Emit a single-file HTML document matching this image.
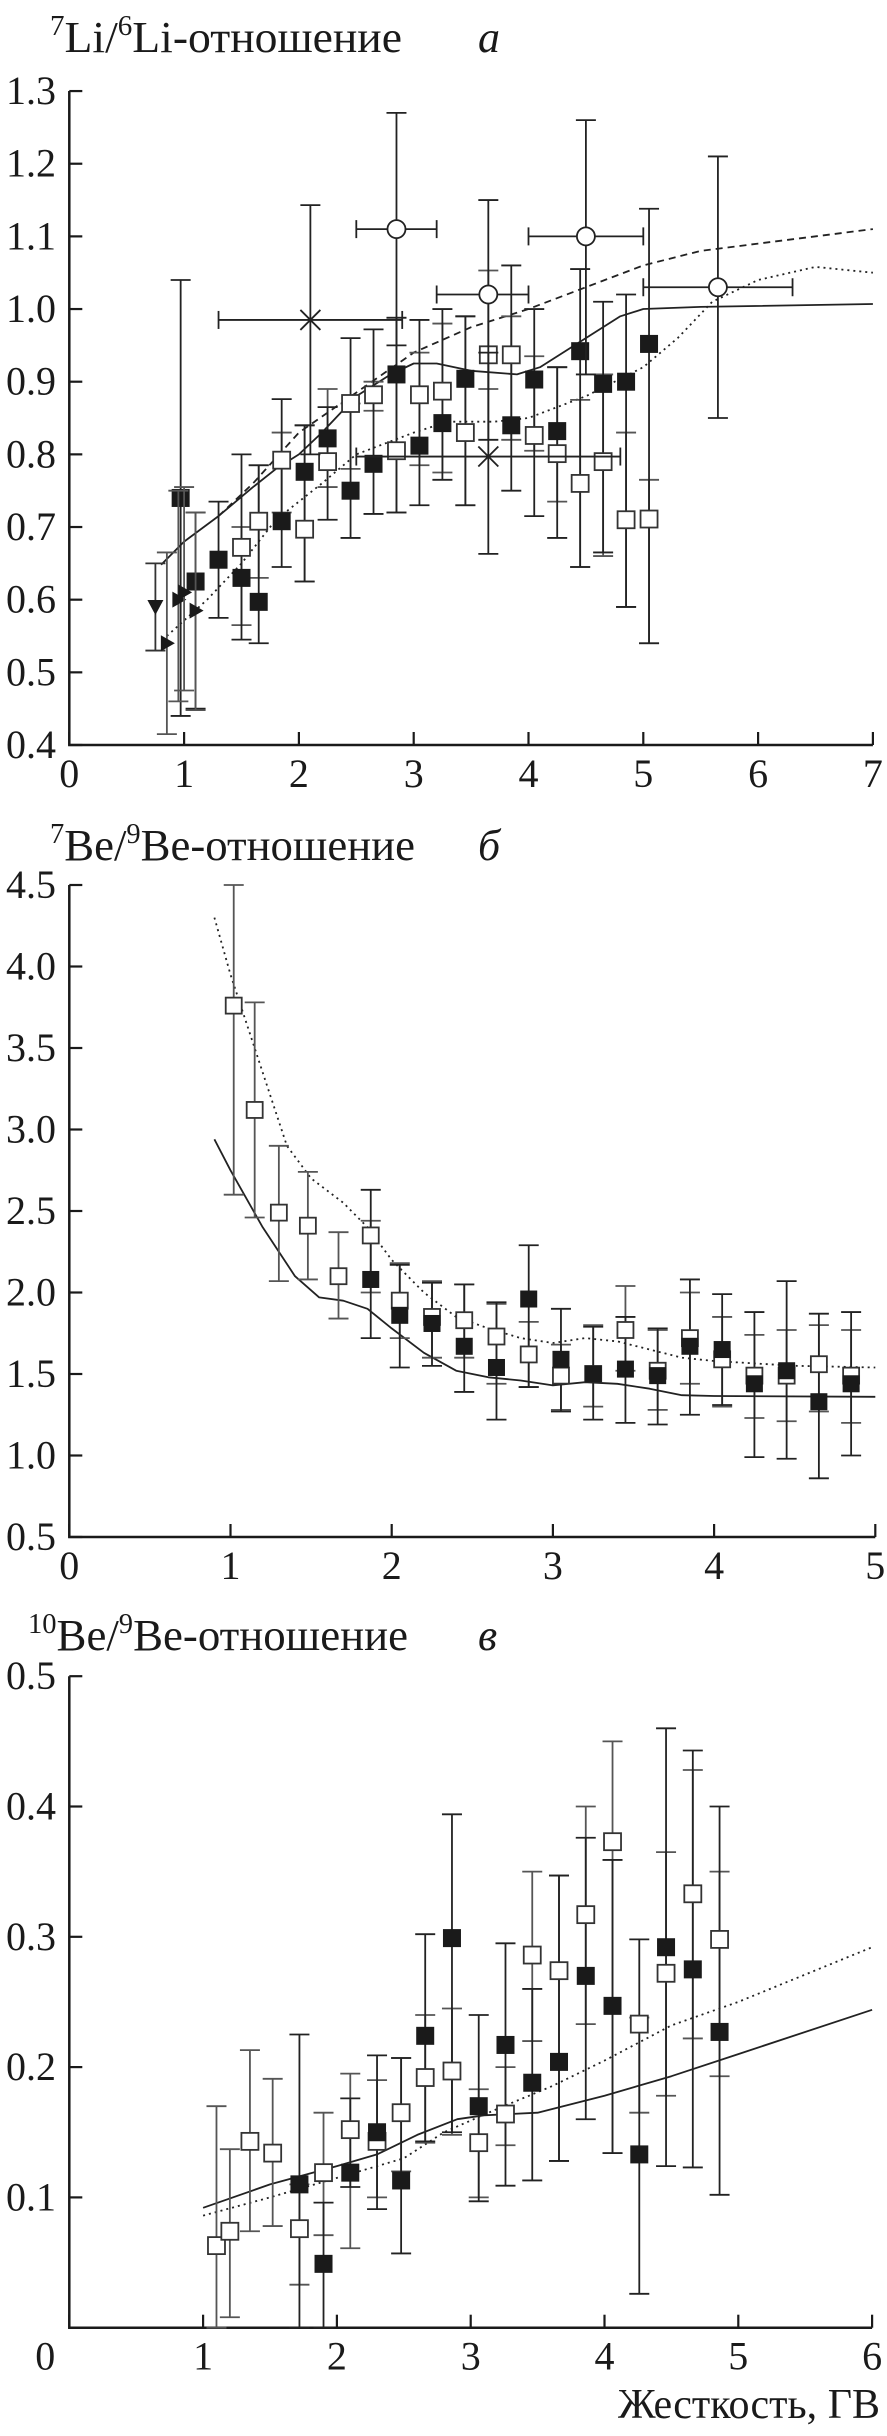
<!DOCTYPE html>
<html><head><meta charset="utf-8"><style>
html,body{margin:0;padding:0;background:#fff;}
svg{display:block;}
text{font-family:"Liberation Serif",serif;fill:#1a1a1a;}
</style></head><body>
<svg id="s" width="887" height="2436" viewBox="0 0 887 2436" xmlns="http://www.w3.org/2000/svg">
<text x="50" y="52" font-size="44" textLength="352" lengthAdjust="spacingAndGlyphs"><tspan font-size="28" dy="-17">7</tspan><tspan dy="17">Li/</tspan><tspan font-size="28" dy="-17">6</tspan><tspan dy="17">Li-отношение</tspan></text>
<text x="478" y="52" font-size="44" font-style="italic">а</text>
<text x="50" y="860" font-size="44" textLength="365" lengthAdjust="spacingAndGlyphs"><tspan font-size="28" dy="-17">7</tspan><tspan dy="17">Be/</tspan><tspan font-size="28" dy="-17">9</tspan><tspan dy="17">Be-отношение</tspan></text>
<text x="478" y="860" font-size="44" font-style="italic">б</text>
<text x="28" y="1650" font-size="44" textLength="380" lengthAdjust="spacingAndGlyphs"><tspan font-size="28" dy="-17">10</tspan><tspan dy="17">Be/</tspan><tspan font-size="28" dy="-17">9</tspan><tspan dy="17">Be-отношение</tspan></text>
<text x="478" y="1650" font-size="44" font-style="italic">в</text>
<text x="880" y="2418" font-size="42" text-anchor="end" textLength="262" lengthAdjust="spacingAndGlyphs">Жесткость, ГВ</text>
</svg>
<script>
var S=document.getElementById('s'),NS='http://www.w3.org/2000/svg';
function el(t,a,txt){var e=document.createElementNS(NS,t);for(var k in a)e.setAttribute(k,a[k]);if(txt!==undefined)e.textContent=txt;S.appendChild(e);return e;}
function panel(P){
 var X=function(v){return P.x0+v*P.sx;},Y=function(v){return P.y0-(v-P.ymin)*P.sy;};
 var yt=Y(P.ymax),yb=Y(P.ymin),xr=X(P.xmax);
 el('path',{d:'M'+P.x0+' '+yt+'V'+yb+'H'+xr,stroke:'#1a1a1a','stroke-width':2.5,fill:'none'});
 P.yt.forEach(function(v){var y=Y(v);el('line',{x1:P.x0,y1:y,x2:P.x0+13,y2:y,stroke:'#1a1a1a','stroke-width':2.2});
  el('text',{x:56,y:y+13,'font-size':40,'text-anchor':'end'},v.toFixed(1));});
 P.xt.forEach(function(v){var x=X(v);el('line',{x1:x,y1:yb,x2:x,y2:yb-13,stroke:'#1a1a1a','stroke-width':2.2});
  el('text',{x:(v==0&&P.zoff)?x+P.zoff:x,y:yb+P.xlab,'font-size':40,'text-anchor':'middle'},String(v));});
 function line(pts,dash){var d='';pts.forEach(function(p,i){d+=(i?'L':'M')+X(p[0]).toFixed(1)+' '+Y(p[1]).toFixed(1);});
  var a={d:d,stroke:'#222','stroke-width':1.8,fill:'none','stroke-linejoin':'round'};if(dash)a['stroke-dasharray']=dash;el('path',a);}
 function eb(x,lo,hi,c){var cx=X(x);el('line',{x1:cx,y1:Y(lo),x2:cx,y2:Y(hi),stroke:c,'stroke-width':1.8});
  [lo,hi].forEach(function(v){el('line',{x1:cx-10,y1:Y(v),x2:cx+10,y2:Y(v),stroke:c,'stroke-width':1.8});});}
 (P.lines||[]).forEach(function(l){line(l[0],l[1]);});
 (P.open||[]).forEach(function(p){eb(p[0],p[2],p[3],'#555');});
 (P.filled||[]).forEach(function(p){eb(p[0],p[2],p[3],'#222');});
 var h=P.ms/2;
 (P.open||[]).forEach(function(p){el('rect',{x:X(p[0])-h,y:Y(p[1])-h,width:P.ms,height:P.ms,fill:'#fff',stroke:'#333','stroke-width':1.8});});
 (P.filled||[]).forEach(function(p){el('rect',{x:X(p[0])-h,y:Y(p[1])-h,width:P.ms,height:P.ms,fill:'#1a1a1a',stroke:'#1a1a1a','stroke-width':1});});
 return {X:X,Y:Y,eb:eb};
}
var A=panel({x0:69.3,sx:114.8,y0:745,ymin:0.4,ymax:1.3,sy:726.6,xmax:7,ms:17,xlab:42,
 yt:[0.4,0.5,0.6,0.7,0.8,0.9,1.0,1.1,1.2,1.3],xt:[0,1,2,3,4,5,6,7],
 lines:[
 [[[0.8,0.648],[1.0,0.68],[1.3,0.715],[1.6,0.755],[1.8,0.78],[2.0,0.80],[2.2,0.83],[2.5,0.88],[2.8,0.91],[3.0,0.925],[3.2,0.925],[3.5,0.915],[3.9,0.91],[4.1,0.92],[4.4,0.95],[4.8,0.99],[5.0,1.0],[5.5,1.003],[7,1.007]],null],
 [[[1.3,0.715],[1.6,0.76],[2,0.83],[2.5,0.885],[3,0.94],[3.5,0.975],[4,1.0],[4.5,1.03],[5,1.06],[5.5,1.08],[6,1.09],[7,1.11]],'7,5'],
 [[[0.85,0.55],[1.2,0.60],[1.5,0.65],[1.8,0.71],[2.2,0.76],[2.5,0.80],[3,0.83],[3.3,0.845],[3.7,0.845],[4.0,0.85],[4.5,0.88],[5.0,0.92],[5.3,0.96],[5.6,1.01],[6.0,1.04],[6.5,1.058],[7,1.05]],'2,4']],
 open:[[1.5,0.672,0.565,0.70],[1.65,0.708,0.63,0.785],[1.85,0.792,0.72,0.83],[2.05,0.697,0.625,0.84],[2.25,0.79,0.755,0.89],[2.45,0.87,0.78,0.87],[2.65,0.882,0.86,0.9],[2.85,0.805,0.72,0.988],[3.05,0.882,0.785,0.94],[3.25,0.887,0.775,0.98],[3.45,0.83,0.73,0.99],[3.65,0.937,0.89,1.053],[3.85,0.937,0.82,0.99],[4.05,0.826,0.805,0.935],[4.25,0.801,0.735,0.92],[4.45,0.76,0.645,0.875],[4.65,0.79,0.66,0.91],[4.85,0.71,0.59,0.83],[5.05,0.711,0.54,0.765]],
 filled:[[0.97,0.74,0.44,1.04],[1.1,0.625,0.45,0.72],[1.3,0.655,0.575,0.735],[1.5,0.63,0.545,0.80],[1.65,0.597,0.54,0.785],[1.85,0.708,0.645,0.876],[2.05,0.776,0.625,0.84],[2.25,0.822,0.71,0.865],[2.45,0.75,0.685,0.96],[2.65,0.787,0.718,0.972],[2.85,0.91,0.72,0.988],[3.05,0.812,0.73,0.985],[3.25,0.843,0.765,1.0],[3.45,0.904,0.73,0.99],[3.85,0.84,0.75,1.06],[4.05,0.903,0.715,1.0],[4.25,0.832,0.685,0.92],[4.45,0.942,0.645,1.055],[4.65,0.897,0.665,1.01],[4.85,0.9,0.59,1.02],[5.05,0.952,0.54,1.138]]});
[[2.85,1.11,0.95,1.27,2.5,3.2],[3.65,1.02,0.82,1.15,3.2,4.0],[4.5,1.10,0.91,1.26,4.0,5.0],[5.65,1.03,0.85,1.21,5.0,6.3]].forEach(function(p){
 A.eb(p[0],p[2],p[3],'#222');var y=A.Y(p[1]);
 el('line',{x1:A.X(p[4]),y1:y,x2:A.X(p[5]),y2:y,stroke:'#222','stroke-width':1.8});
 [p[4],p[5]].forEach(function(v){el('line',{x1:A.X(v),y1:y-9,x2:A.X(v),y2:y+9,stroke:'#222','stroke-width':1.8});});
 el('circle',{cx:A.X(p[0]),cy:y,r:9,fill:'#fff',stroke:'#222','stroke-width':1.8});});
[[2.1,0.985,0.80,1.143,1.3,2.9],[3.65,0.797,0.663,0.94,2.5,4.8]].forEach(function(p){
 A.eb(p[0],p[2],p[3],'#222');var y=A.Y(p[1]),x=A.X(p[0]);
 el('line',{x1:A.X(p[4]),y1:y,x2:A.X(p[5]),y2:y,stroke:'#222','stroke-width':1.8});
 [p[4],p[5]].forEach(function(v){el('line',{x1:A.X(v),y1:y-9,x2:A.X(v),y2:y+9,stroke:'#222','stroke-width':1.8});});
 el('path',{d:'M'+(x-10)+' '+(y-10)+'L'+(x+10)+' '+(y+10)+'M'+(x-10)+' '+(y+10)+'L'+(x+10)+' '+(y-10),stroke:'#222','stroke-width':1.8});});
A.eb(0.75,0.53,0.65,'#333');
(function(){var x=A.X(0.75),y=A.Y(0.59);el('path',{d:'M'+(x-8)+' '+(y-7)+'L'+(x+8)+' '+(y-7)+'L'+x+' '+(y+8)+'Z',fill:'#1a1a1a'});})();
[[0.85,0.54,0.415,0.665],[0.95,0.60,0.46,0.75],[1.0,0.61,0.475,0.755],[1.1,0.585,0.448,0.72]].forEach(function(p){
 A.eb(p[0],p[2],p[3],'#555');var x=A.X(p[0]),y=A.Y(p[1]);
 el('path',{d:'M'+(x-6)+' '+(y-8)+'L'+(x+8)+' '+y+'L'+(x-6)+' '+(y+8)+'Z',fill:'#1a1a1a'});});
panel({x0:69.3,sx:161.2,y0:1537,ymin:0.5,ymax:4.5,sy:163,xmax:5,ms:16,xlab:42,
 yt:[0.5,1.0,1.5,2.0,2.5,3.0,3.5,4.0,4.5],xt:[0,1,2,3,4,5],
 lines:[
 [[[0.9,2.94],[1.0,2.75],[1.2,2.4],[1.4,2.1],[1.55,1.97],[1.7,1.95],[1.85,1.9],[2.0,1.78],[2.2,1.63],[2.4,1.52],[2.6,1.48],[2.8,1.46],[3.0,1.43],[3.2,1.45],[3.4,1.44],[3.6,1.41],[3.8,1.37],[4.0,1.365],[5,1.36]],null],
 [[[0.9,4.3],[1.0,3.95],[1.2,3.35],[1.35,2.9],[1.5,2.7],[1.7,2.55],[1.85,2.4],[2.0,2.2],[2.2,2.0],[2.4,1.85],[2.6,1.78],[2.8,1.72],[3.0,1.69],[3.2,1.72],[3.4,1.7],[3.6,1.65],[3.8,1.6],[4.0,1.58],[4.5,1.55],[5,1.54]],'2,4']],
 open:[[1.02,3.76,2.6,4.5],[1.15,3.12,2.46,3.78],[1.3,2.49,2.07,2.9],[1.48,2.41,2.08,2.74],[1.67,2.1,1.84,2.37],[1.87,2.35,2.0,2.44],[2.05,1.95,1.72,2.18],[2.25,1.85,1.6,2.07],[2.45,1.83,1.6,2.05],[2.65,1.73,1.44,1.93],[2.85,1.62,1.42,1.82],[3.05,1.49,1.28,1.68],[3.25,1.5,1.3,1.8],[3.45,1.77,1.52,2.04],[3.65,1.52,1.28,1.77],[3.85,1.72,1.44,2.0],[4.05,1.59,1.3,1.85],[4.25,1.49,1.23,1.74],[4.45,1.49,1.21,1.77],[4.65,1.56,1.27,1.8],[4.85,1.49,1.2,1.77]],
 filled:[[1.87,2.08,1.72,2.63],[2.05,1.86,1.54,2.17],[2.25,1.81,1.55,2.06],[2.45,1.67,1.39,2.05],[2.65,1.54,1.22,1.94],[2.85,1.96,1.42,2.29],[3.05,1.59,1.27,1.9],[3.25,1.5,1.22,1.79],[3.45,1.53,1.2,1.85],[3.65,1.49,1.19,1.78],[3.85,1.67,1.25,2.08],[4.05,1.65,1.31,1.99],[4.25,1.44,0.99,1.88],[4.45,1.52,0.98,2.07],[4.65,1.33,0.86,1.87],[4.85,1.44,1.0,1.88]]});
panel({x0:69.3,sx:133.8,y0:2327.7,ymin:0,ymax:0.5,sy:1303,xmax:6,ms:17,xlab:42,zoff:-24,
 yt:[0.1,0.2,0.3,0.4,0.5],xt:[0,1,2,3,4,5,6],
 lines:[
 [[[1,0.092],[1.5,0.11],[2,0.124],[2.3,0.133],[2.6,0.148],[2.9,0.16],[3.1,0.163],[3.5,0.165],[4,0.178],[4.5,0.193],[5,0.21],[6,0.244]],null],
 [[[1,0.086],[1.5,0.1],[2,0.115],[2.5,0.13],[2.8,0.15],[3.2,0.168],[3.6,0.185],[4,0.205],[4.5,0.232],[5,0.25],[6,0.292]],'2,4']],
 open:[[1.1,0.063,0,0.17],[1.2,0.074,0.008,0.137],[1.35,0.143,0.074,0.213],[1.52,0.134,0.078,0.191],[1.72,0.076,0.033,0.11],[1.9,0.119,0.071,0.165],[2.1,0.152,0.061,0.195],[2.3,0.143,0.1,0.19],[2.48,0.165,0.12,0.207],[2.66,0.192,0.142,0.24],[2.86,0.197,0.148,0.245],[3.06,0.142,0.1,0.183],[3.26,0.164,0.14,0.2],[3.46,0.286,0.22,0.35],[3.66,0.274,0.128,0.347],[3.86,0.317,0.233,0.4],[4.06,0.373,0.134,0.45],[4.26,0.233,0.165,0.238],[4.46,0.272,0.178,0.365],[4.66,0.333,0.222,0.428],[4.86,0.298,0.193,0.35]],
 filled:[[1.72,0.11,0,0.225],[1.9,0.049,0,0.096],[2.1,0.119,0.108,0.176],[2.3,0.15,0.091,0.209],[2.48,0.113,0.057,0.207],[2.66,0.224,0.143,0.302],[2.86,0.299,0.15,0.394],[3.06,0.17,0.097,0.24],[3.26,0.217,0.109,0.295],[3.46,0.188,0.113,0.26],[3.66,0.204,0.128,0.347],[3.86,0.27,0.16,0.376],[4.06,0.247,0.134,0.359],[4.26,0.133,0.026,0.298],[4.46,0.292,0.124,0.46],[4.66,0.275,0.123,0.443],[4.86,0.227,0.102,0.4]]});
</script>
</body></html>
